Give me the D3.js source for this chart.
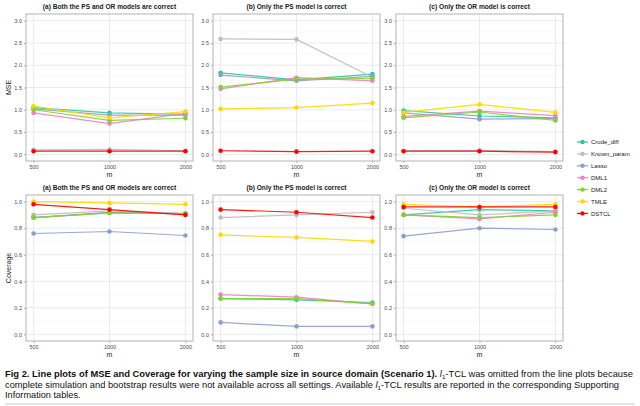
<!DOCTYPE html>
<html>
<head>
<meta charset="utf-8">
<script src="https://cdn.jsdelivr.net/npm/d3@7"></script>
<style>
  body { margin: 0; background: #fff; }
  svg text { font-family: "Liberation Sans", Arial, sans-serif; }
</style>
</head>
<body>
<svg id="chart" width="640" height="406"></svg>
<script>
// sample sizes and methods
const mLabels = ["500", "1000", "2000"];
const methods = ["Crude_diff", "Known_param", "Lasso", "DML1", "DML2", "TMLE", "DSTCL"];
const methodColors = ["#2ec4a0", "#bdbdbd", "#8da0cb", "#f080c6", "#80d32c", "#ffd700", "#ff0000"];

const panelTitles = [
    "(a) Both the PS and OR models are correct",
    "(b) Only the PS model is correct",
    "(c) Only the OR model is correct"
];

// MSE, one row per method (same order as methods)
const mseBoth = [
    [1.05, 0.93, 0.90],
    [0.10, 0.11, 0.08],
    [1.02, 0.88, 0.88],
    [0.93, 0.69, 0.92],
    [1.00, 0.76, 0.81],
    [1.08, 0.82, 0.96],
    [0.07, 0.07, 0.07]
];
const msePS = [
    [1.83, 1.67, 1.80],
    [2.59, 2.58, 1.73],
    [1.78, 1.65, 1.75],
    [1.47, 1.72, 1.65],
    [1.51, 1.69, 1.70],
    [1.02, 1.05, 1.15],
    [0.08, 0.06, 0.07]
];
const mseOR = [
    [0.98, 0.86, 0.82],
    [0.08, 0.09, 0.06],
    [0.93, 0.79, 0.80],
    [0.85, 0.97, 0.87],
    [0.82, 0.95, 0.76],
    [0.94, 1.12, 0.94],
    [0.07, 0.07, 0.05]
];

// Coverage
const covBoth = [
    [0.88, 0.92, 0.91],
    [0.90, 0.93, 0.91],
    [0.76, 0.775, 0.745],
    [0.88, 0.915, 0.91],
    [0.88, 0.915, 0.91],
    [1.00, 0.99, 0.98],
    [0.98, 0.94, 0.90]
];
const covPS = [
    [0.27, 0.26, 0.24],
    [0.88, 0.90, 0.92],
    [0.09, 0.06, 0.06],
    [0.30, 0.28, 0.23],
    [0.27, 0.27, 0.23],
    [0.75, 0.73, 0.70],
    [0.94, 0.92, 0.88]
];
const covOR = [
    [0.90, 0.94, 0.93],
    [0.95, 0.90, 0.93],
    [0.74, 0.80, 0.79],
    [0.90, 0.87, 0.92],
    [0.90, 0.88, 0.90],
    [0.98, 0.96, 0.98],
    [0.96, 0.96, 0.96]
];

const mseTicks = [0, 0.5, 1, 1.5, 2, 2.5, 3];
const covTicks = [0, 0.2, 0.4, 0.6, 0.8, 1];

const svg = d3.select("#chart");

const panelLefts = [26, 213, 396];
const panelW = 167;

const rows = [
    { top: 14, height: 147, domain: [0, 3], ticks: mseTicks, label: "MSE", data: [mseBoth, msePS, mseOR] },
    { top: 195, height: 146, domain: [0, 1], ticks: covTicks, label: "Coverage", data: [covBoth, covPS, covOR] }
];

rows.forEach(row => {
    const span = row.domain[1] - row.domain[0];
    const y = d3.scaleLinear()
        .domain([row.domain[0] - span * 0.05, row.domain[1] + span * 0.05])
        .range([row.top + row.height, row.top]);
    const step = row.ticks[1] - row.ticks[0];
    const minorTicks = row.ticks.slice(0, -1).map(t => t + step / 2);

    // y axis title
    svg.append("text")
        .attr("transform", `translate(11,${row.top + row.height / 2}) rotate(-90)`)
        .attr("text-anchor", "middle")
        .style("font-size", "7px")
        .style("fill", "#222")
        .text(row.label);

    panelLefts.forEach((left, p) => {
        const x = d3.scalePoint()
            .domain(mLabels)
            .range([left, left + panelW])
            .padding(0.1);

        const g = svg.append("g");

        // grid
        g.selectAll(".minor").data(minorTicks).enter().append("line")
            .attr("x1", left).attr("x2", left + panelW)
            .attr("y1", d => y(d)).attr("y2", d => y(d))
            .attr("stroke", "#f0f0f0").attr("stroke-width", 0.5);
        g.selectAll(".major").data(row.ticks).enter().append("line")
            .attr("x1", left).attr("x2", left + panelW)
            .attr("y1", d => y(d)).attr("y2", d => y(d))
            .attr("stroke", "#e3e3e3").attr("stroke-width", 0.7);
        g.selectAll(".vgrid").data(mLabels).enter().append("line")
            .attr("x1", d => x(d)).attr("x2", d => x(d))
            .attr("y1", row.top).attr("y2", row.top + row.height)
            .attr("stroke", "#e3e3e3").attr("stroke-width", 0.7);

        // y axis
        const ya = g.append("g")
            .attr("transform", `translate(${left},0)`)
            .call(d3.axisLeft(y).tickValues(row.ticks).tickFormat(d3.format(".1f")).tickSize(2).tickPadding(2));
        ya.select(".domain").remove();
        ya.selectAll("line").attr("stroke", "#555").attr("stroke-width", 0.5);
        ya.selectAll("text").style("font-size", "5.5px").style("fill", "#4d4d4d");

        // x axis
        const xa = g.append("g")
            .attr("transform", `translate(0,${row.top + row.height})`)
            .call(d3.axisBottom(x).tickSize(2).tickPadding(2));
        xa.select(".domain").remove();
        xa.selectAll("line").attr("stroke", "#555").attr("stroke-width", 0.5);
        xa.selectAll("text").style("font-size", "5.5px").style("fill", "#4d4d4d");

        // x title
        g.append("text")
            .attr("x", left + panelW / 2)
            .attr("y", row.top + row.height + 15.5)
            .attr("text-anchor", "middle")
            .style("font-size", "7px")
            .style("fill", "#222")
            .text("m");

        // panel title
        g.append("text")
            .attr("x", left + panelW / 2)
            .attr("y", row.top - 5)
            .attr("text-anchor", "middle")
            .style("font-size", "6.6px")
            .style("font-weight", "bold")
            .style("fill", "#1a1a1a")
            .text(panelTitles[p]);

        // lines + points
        const line = d3.line()
            .x((d, i) => x(mLabels[i]))
            .y(d => y(d));
        const series = row.data[p];
        series.forEach((vals, k) => {
            g.append("path")
                .datum(vals)
                .attr("d", line)
                .attr("fill", "none")
                .attr("stroke", methodColors[k])
                .attr("stroke-width", 1.2)
                .attr("opacity", 0.9);
            g.selectAll(null).data(vals).enter().append("circle")
                .attr("cx", (d, i) => x(mLabels[i]))
                .attr("cy", d => y(d))
                .attr("r", 2.3)
                .attr("fill", methodColors[k]);
        });

        // panel border
        g.append("rect")
            .attr("x", left).attr("y", row.top)
            .attr("width", panelW).attr("height", row.height)
            .attr("fill", "none")
            .attr("stroke", "#b3b3b3")
            .attr("stroke-width", 1);
    });
});

// legend
const legend = svg.append("g").attr("transform", "translate(577,142)");
methods.forEach((name, i) => {
    const item = legend.append("g").attr("transform", `translate(0,${i * 11.9})`);
    item.append("line")
        .attr("x1", 0).attr("x2", 11)
        .attr("stroke", methodColors[i]).attr("stroke-width", 1.2);
    item.append("circle").attr("cx", 5.5).attr("r", 2.2).attr("fill", methodColors[i]);
    item.append("text")
        .attr("x", 14).attr("y", 0).attr("dy", "0.35em")
        .style("font-size", "6px")
        .style("fill", "#222")
        .text(name);
});

// caption
const cap = svg.append("g").style("font-size", "9.2px").style("fill", "#111");
const l1 = cap.append("text").attr("x", 5).attr("y", 377)
    .attr("textLength", 628).attr("lengthAdjust", "spacingAndGlyphs");
l1.append("tspan").style("font-weight", "bold")
    .text("Fig 2.  Line plots of MSE and Coverage for varying the sample size in source domain (Scenario 1).");
l1.append("tspan").text(" ");
l1.append("tspan").style("font-style", "italic").text("l");
l1.append("tspan").attr("dy", 2).style("font-size", "6px").text("1");
l1.append("tspan").attr("dy", -2).text("-TCL was omitted from the line plots because");

const l2 = cap.append("text").attr("x", 5).attr("y", 388)
    .attr("textLength", 614).attr("lengthAdjust", "spacingAndGlyphs");
l2.append("tspan").text("complete simulation and bootstrap results were not available across all settings. Available ");
l2.append("tspan").style("font-style", "italic").text("l");
l2.append("tspan").attr("dy", 2).style("font-size", "6px").text("1");
l2.append("tspan").attr("dy", -2).text("-TCL results are reported in the corresponding Supporting");

cap.append("text").attr("x", 5).attr("y", 398).text("Information tables.");

svg.append("line")
    .attr("x1", 5).attr("x2", 635).attr("y1", 404).attr("y2", 404)
    .attr("stroke", "#ccc").attr("stroke-width", 1);
</script>
</body>
</html>
